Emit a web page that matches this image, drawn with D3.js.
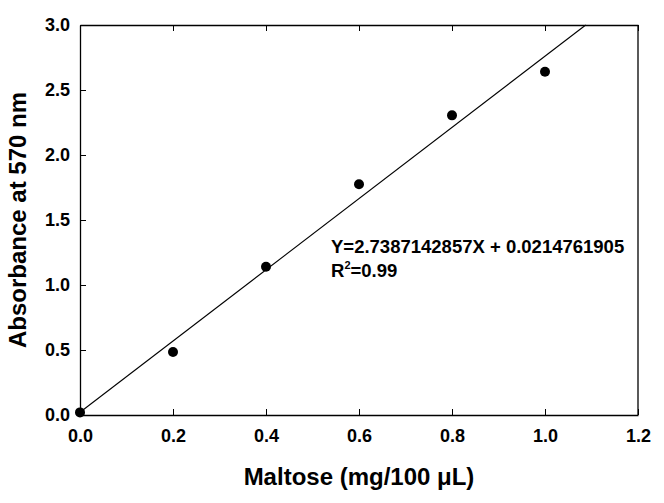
<!DOCTYPE html>
<html>
<head>
<meta charset="utf-8">
<script src="https://cdn.jsdelivr.net/npm/d3@7"></script>
<style>
  body { margin: 0; background: #fff; }
  text { font-family: "Liberation Sans", Arial, sans-serif; font-weight: bold; fill: #000; }
</style>
</head>
<body>
<svg id="chart" width="664" height="503"></svg>
<script>
// maltose standard curve
const maltose = [0.0, 0.2, 0.4, 0.6, 0.8, 1.0];
const absorbance = [0.02, 0.485, 1.14, 1.775, 2.305, 2.64];
const slope = 2.7387142857;
const intercept = 0.0214761905;
const xTicks = [0.0, 0.2, 0.4, 0.6, 0.8, 1.0, 1.2];
const yTicks = [0.0, 0.5, 1.0, 1.5, 2.0, 2.5, 3.0];

const svg = d3.select("#chart");
const mLeft = 80, mRight = 638, mTop = 25, mBottom = 415;

const x = d3.scaleLinear().domain([0, 1.2]).range([mLeft, mRight]);
const y = d3.scaleLinear().domain([0, 3]).range([mBottom, mTop]);

// axes, ticks pointing inward
svg.append("g")
  .attr("transform", "translate(0," + mBottom + ")")
  .call(d3.axisBottom(x).tickValues(xTicks).tickFormat(d3.format(".1f")).tickSizeInner(-6).tickSizeOuter(0).tickPadding(14))
  .call(g => g.selectAll("text").style("font-size", "18px"));
svg.append("g")
  .attr("transform", "translate(" + mLeft + ",0)")
  .call(d3.axisLeft(y).tickValues(yTicks).tickFormat(d3.format(".1f")).tickSizeInner(-6).tickSizeOuter(0).tickPadding(10))
  .call(g => g.selectAll("text").style("font-size", "18px"));
svg.append("g")
  .attr("transform", "translate(0," + mTop + ")")
  .call(d3.axisTop(x).tickValues(xTicks).tickSizeInner(-6).tickSizeOuter(0).tickFormat(""));
svg.selectAll(".domain").attr("stroke", "#000").attr("stroke-width", 1.3);
svg.selectAll(".tick line").attr("stroke", "#000");

// frame right side
svg.append("line")
  .attr("x1", mRight).attr("x2", mRight).attr("y1", mTop).attr("y2", mBottom)
  .attr("stroke", "#000").attr("stroke-width", 1.3);

// regression line, clipped at the top edge
const xEnd = (3 - intercept) / slope;
svg.append("line")
  .attr("x1", x(0)).attr("y1", y(intercept))
  .attr("x2", x(xEnd)).attr("y2", y(slope * xEnd + intercept))
  .attr("stroke", "#000").attr("stroke-width", 1.1);

// points
svg.selectAll("circle.pt").data(maltose).enter().append("circle")
  .attr("class", "pt")
  .attr("cx", d => x(d))
  .attr("cy", (d, i) => y(absorbance[i]))
  .attr("r", 5)
  .attr("fill", "#000");

// equation
svg.append("text").attr("x", 331).attr("y", 253).style("font-size", "18.5px")
  .text("Y=2.7387142857X + 0.0214761905");
const r2 = svg.append("text").attr("x", 331).attr("y", 277).style("font-size", "18.5px");
r2.append("tspan").text("R");
r2.append("tspan").attr("dy", -8).style("font-size", "11px").text("2");
r2.append("tspan").attr("dy", 8).text("=0.99");

// axis titles
svg.append("text").attr("x", (mLeft + mRight) / 2).attr("y", 485)
  .attr("text-anchor", "middle").style("font-size", "24px")
  .text("Maltose (mg/100 \u03bcL)");
svg.append("text")
  .attr("transform", "translate(26," + (mTop + mBottom) / 2 + ") rotate(-90)")
  .attr("text-anchor", "middle").style("font-size", "24px")
  .text("Absorbance at 570 nm");
</script>
</body>
</html>
